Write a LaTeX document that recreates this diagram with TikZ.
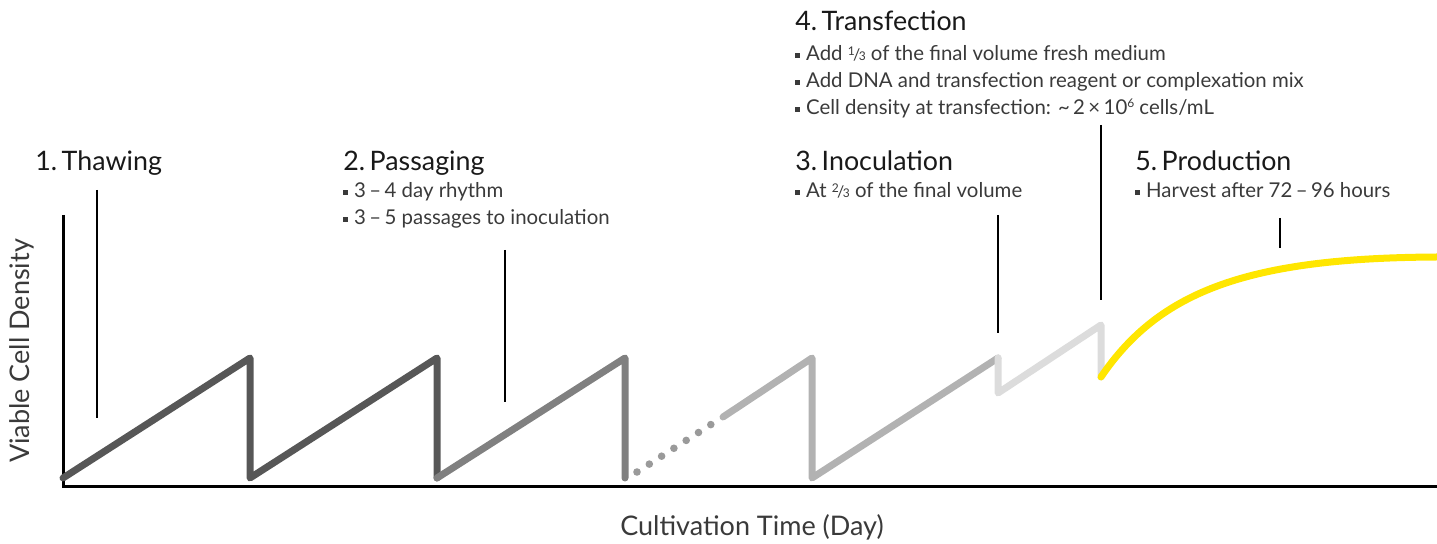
\documentclass[tikz,border=0pt]{standalone}
\usepackage{fontspec}
\setmainfont{Lato}
\usetikzlibrary{positioning}
\definecolor{darkline}{HTML}{575757}
\definecolor{midline}{HTML}{808080}
\definecolor{dotline}{HTML}{9A9A9A}
\definecolor{lightline}{HTML}{B2B2B2}
\definecolor{paleline}{HTML}{DCDCDC}
\definecolor{prodline}{HTML}{FFE600}
\definecolor{textgrey}{HTML}{3A3A3A}
\newcommand{\bul}{\rule[0.3ex]{0.45ex}{0.45ex}\hspace{0.3em}}
\newcommand{\slfrac}[2]{\raisebox{0.55ex}{\fontsize{6}{6}\selectfont #1}\kern-0.08em{\fontsize{8}{8}\selectfont/}\kern-0.08em{\fontsize{6}{6}\selectfont #2}}
\newcommand{\supsm}[1]{\raisebox{0.75ex}{\fontsize{6}{6}\selectfont #1}}

\begin{document}
\begin{tikzpicture}[x=0.5pt, y=-0.5pt,
    curve/.style={line width=3.5pt, line cap=round, line join=round},
    leader/.style={line width=0.8pt, black},
    title/.style={anchor=base west, inner sep=0pt, font=\fontsize{13.4}{15}\selectfont, text=black!90},
    bullet/.style={anchor=base west, inner sep=0pt, font=\fontsize{10.2}{12}\selectfont, text=textgrey},
    axislabel/.style={inner sep=0pt, font=\fontsize{13.5}{15}\selectfont, text=textgrey}]

            \useasboundingbox (0,0) rectangle (1437,544);

            % Achsen
            \draw[line width=1.5pt, black] (63,215) -- (63,487) -- (1437,487);
            \node[axislabel, rotate=90] (ylab) at (22,351) {Viable Cell Density};
            \node[axislabel] (xlab) at (752,527) {Cultivation Time (Day)};

            % Passagen (Saegezahn)
            \draw[curve, darkline] (63,478) -- (250,358) -- (250,478) -- (437,358) -- (437,478);
            \draw[curve, midline] (437,478) -- (625,358) -- (625,478);
            \foreach \i in {0,...,6}
                \fill[dotline] ({637+12.3*\i},{472-7.9*\i}) circle (1.9pt);
            \draw[curve, lightline] (723,417) -- (812,358) -- (812,478) -- (998,358);
            \draw[curve, paleline] (998,358) -- (998,393) -- (1101,325) -- (1101,377);

            % Produktion
            \draw[curve, prodline] (1101,377) .. controls (1160,290) and (1250,258) .. (1437,257);

            % Hinweislinien
            \draw[leader] (97,190) -- (97,418);
            \draw[leader] (505,250) -- (505,402);
            \draw[leader] (998,215) -- (998,333);
            \draw[leader] (1101,125) -- (1101,300);
            \draw[leader] (1280,218) -- (1280,248);

            % Beschriftungen
            \node[title] (thaw) at (35,171) {1.\,Thawing};

            \node[title] (pass) at (343,171) {2.\,Passaging};
            \node[bullet] (pass1) at (343,198) {\bul 3\,--\,4 day rhythm};
            \node[bullet] (pass2) at (343,225) {\bul 3\,--\,5 passages to inoculation};

            \node[title] (inoc) at (795,171) {3.\,Inoculation};
            \node[bullet] (inoc1) at (795,198) {\bul At \slfrac{2}{3} of the final volume};

            \node[title] (trans) at (795,31) {4.\,Transfection};
            \node[bullet] (trans1) at (795,61) {\bul Add \slfrac{1}{3} of the final volume fresh medium};
            \node[bullet] (trans2) at (795,88) {\bul Add DNA and transfection reagent or complexation mix};
            \node[bullet] (trans3) at (795,115) {\bul Cell density at transfection: \textasciitilde\,2\,×\,10\supsm{6} cells/mL};

            \node[title] (prod) at (1135,171) {5.\,Production};
            \node[bullet] (prod1) at (1135,198) {\bul Harvest after 72\,--\,96 hours};

\end{tikzpicture}
\end{document}
